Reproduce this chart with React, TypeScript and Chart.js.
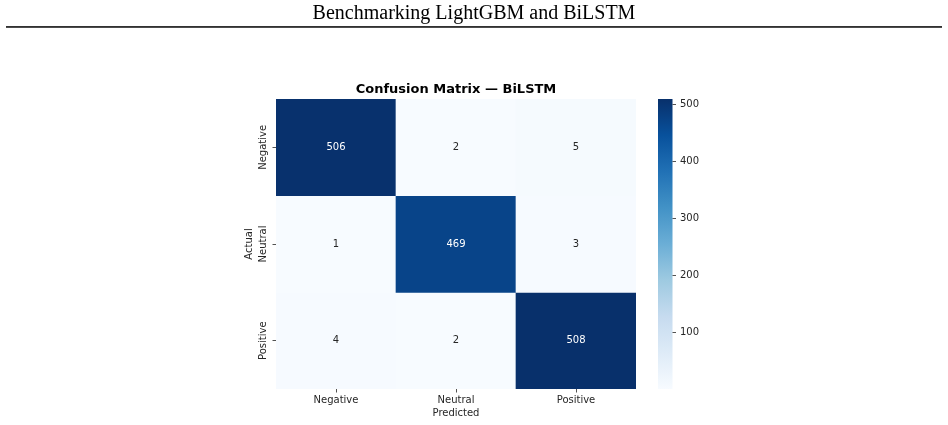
import React, { useEffect, useRef } from "react";
import { Chart, registerables } from "chart.js";

Chart.register(...registerables);

// ---------------- data ----------------
const pageTitle = "Benchmarking LightGBM and BiLSTM";
const chartTitle = "Confusion Matrix — BiLSTM";
const classes = ["Negative", "Neutral", "Positive"];
const rowNegative = [506, 2, 5];
const rowNeutral = [1, 469, 3];
const rowPositive = [4, 2, 508];
const matrix = [rowNegative, rowNeutral, rowPositive];
const colorbarTicks = [100, 200, 300, 400, 500];
const xTitle = "Predicted";
const yTitle = "Actual";

// matplotlib "Blues" colormap anchor points
const bluesStops: number[][] = [
  [247, 251, 255],
  [222, 235, 247],
  [198, 219, 239],
  [158, 202, 225],
  [107, 174, 214],
  [66, 146, 198],
  [33, 113, 181],
  [8, 81, 156],
  [8, 48, 107],
];

const allValues = matrix.flat();
const vmin = Math.min(...allValues);
const vmax = Math.max(...allValues);

function cmapRGB(t: number): number[] {
  const tt = Math.max(0, Math.min(1, t)) * (bluesStops.length - 1);
  const i = Math.min(bluesStops.length - 2, Math.floor(tt));
  const f = tt - i;
  const a = bluesStops[i];
  const b = bluesStops[i + 1];
  return [0, 1, 2].map((k) => Math.round(a[k] + (b[k] - a[k]) * f));
}
function rgbStr(c: number[]) {
  return `rgb(${c[0]},${c[1]},${c[2]})`;
}
function norm(v: number) {
  return (v - vmin) / (vmax - vmin);
}
function luminance(c: number[]) {
  const lin = c.map((x) => {
    const s = x / 255;
    return s <= 0.03928 ? s / 12.92 : Math.pow((s + 0.055) / 1.055, 2.4);
  });
  return 0.2126 * lin[0] + 0.7152 * lin[1] + 0.0722 * lin[2];
}

const FONT = "'DejaVu Sans', sans-serif";
const TEXT = "#262626";

const heatPlugin = {
  id: "heatExtras",
  afterDraw(chart: any) {
    const ctx = chart.ctx;
    const area = chart.chartArea;
    ctx.save();

    // page heading
    ctx.fillStyle = "#000";
    ctx.font = "20px 'Liberation Serif', 'Times New Roman', serif";
    ctx.textAlign = "center";
    ctx.textBaseline = "alphabetic";
    ctx.fillText(pageTitle, chart.width / 2, 19);
    ctx.fillRect(6, 26.2, chart.width - 12, 1.5);

    // chart title
    ctx.font = `bold 13px ${FONT}`;
    ctx.fillText(chartTitle, (area.left + area.right) / 2, area.top - 6);

    // annotations
    ctx.font = `10px ${FONT}`;
    ctx.textBaseline = "middle";
    chart.data.datasets.forEach((ds: any, r: number) => {
      const meta = chart.getDatasetMeta(r);
      meta.data.forEach((bar: any, c: number) => {
        const v = matrix[r][c];
        const col = cmapRGB(norm(v));
        ctx.fillStyle = luminance(col) > 0.408 ? TEXT : "#ffffff";
        const p = bar.getCenterPoint();
        ctx.fillText(String(v), p.x, p.y);
      });
    });

    // y tick labels (rotated)
    const ys = chart.scales.y;
    ctx.fillStyle = TEXT;
    ys.ticks.forEach((t: any, i: number) => {
      const py = ys.getPixelForValue(t.value);
      ctx.save();
      ctx.translate(area.left - 13, py);
      ctx.rotate(-Math.PI / 2);
      ctx.textAlign = "center";
      ctx.textBaseline = "middle";
      ctx.fillText(classes[i], 0, 0);
      ctx.restore();
    });

    // colorbar
    const cb = chart.scales.cb;
    const x0 = area.right + 22;
    const w = 14.5;
    const yTop = cb.getPixelForValue(vmax);
    const yBot = cb.getPixelForValue(vmin);
    const grad = ctx.createLinearGradient(0, yBot, 0, yTop);
    bluesStops.forEach((s, i) => grad.addColorStop(i / (bluesStops.length - 1), rgbStr(s)));
    ctx.fillStyle = grad;
    ctx.fillRect(x0, yTop, w, yBot - yTop);
    ctx.strokeStyle = TEXT;
    ctx.fillStyle = TEXT;
    ctx.lineWidth = 0.8;
    ctx.textAlign = "left";
    ctx.textBaseline = "middle";
    ctx.font = `10px ${FONT}`;
    cb.ticks.forEach((t: any) => {
      const py = Math.round(cb.getPixelForValue(t.value)) + 0.5;
      ctx.beginPath();
      ctx.moveTo(x0 + w, py);
      ctx.lineTo(x0 + w + 3.5, py);
      ctx.stroke();
      ctx.fillText(String(t.value), x0 + w + 7.5, py);
    });

    ctx.restore();
  },
};

export default function App() {
  const ref = useRef<HTMLCanvasElement | null>(null);

  useEffect(() => {
    if (!ref.current) return;
    const chart = new Chart(ref.current, {
      type: "bar",
      data: {
        labels: classes,
        datasets: matrix.map((row, r) => ({
          label: classes[r],
          data: row.map(() => [r, r + 1]),
          backgroundColor: row.map((v) => rgbStr(cmapRGB(norm(v)))),
          borderWidth: 0,
          barPercentage: 1,
          categoryPercentage: 1,
          grouped: false,
        })) as any,
      },
      options: {
        responsive: false,
        animation: false,
        events: [],
        layout: { autoPadding: false, padding: { left: 236, right: 222, top: 99, bottom: 0 } },
        plugins: {
          legend: { display: false },
          tooltip: { enabled: false },
          title: { display: false },
        },
        scales: {
          x: {
            type: "category",
            position: "bottom",
            offset: true,
            grid: {
              display: true,
              offset: false,
              drawOnChartArea: false,
              drawTicks: true,
              tickLength: 3.5,
              tickColor: TEXT,
              tickWidth: 0.8,
            },
            border: { display: false },
            ticks: {
              color: TEXT,
              font: { family: FONT, size: 10 },
              padding: 2,
              maxRotation: 0,
              autoSkip: false,
            },
            title: {
              display: true,
              text: xTitle,
              color: TEXT,
              font: { family: FONT, size: 10 },
              padding: { top: 0, bottom: 6 },
            },
            afterFit: (s: any) => {
              s.height = 36;
            },
          },
          y: {
            type: "linear",
            position: "left",
            min: 0,
            max: 3,
            reverse: true,
            afterBuildTicks: (s: any) => {
              s.ticks = [0.5, 1.5, 2.5].map((v) => ({ value: v }));
            },
            ticks: { display: false },
            grid: {
              display: true,
              drawOnChartArea: false,
              drawTicks: true,
              tickLength: 3.5,
              tickColor: TEXT,
              tickWidth: 0.8,
            },
            border: { display: false },
            title: {
              display: true,
              text: yTitle,
              color: TEXT,
              font: { family: FONT, size: 10 },
              padding: { top: 7, bottom: 0 },
            },
            afterFit: (s: any) => {
              s.width = 40;
            },
          },
          cb: {
            type: "linear",
            position: "right",
            min: vmin,
            max: vmax,
            afterBuildTicks: (s: any) => {
              s.ticks = colorbarTicks.map((v) => ({ value: v }));
            },
            ticks: { display: false },
            grid: { display: false, drawTicks: false },
            border: { display: false },
            afterFit: (s: any) => {
              s.width = 90;
            },
          },
        },
      } as any,
      plugins: [heatPlugin],
    });
    return () => chart.destroy();
  }, []);

  return (
    <div style={{ position: "absolute", left: 0, top: 0, width: 948, height: 425 }}>
      <canvas ref={ref} width={948} height={425} style={{ display: "block" }} />
    </div>
  );
}
